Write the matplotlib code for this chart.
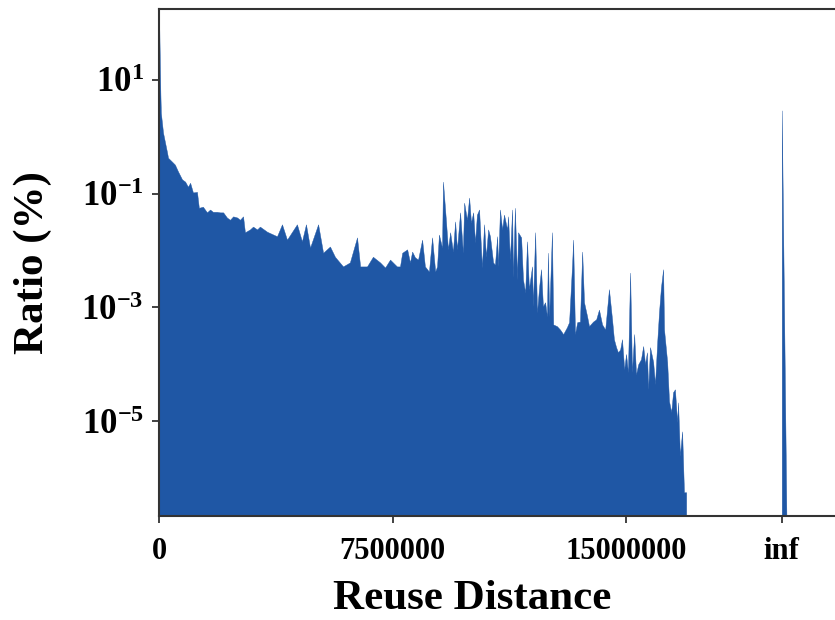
import numpy as np
import matplotlib
matplotlib.use('Agg')
import matplotlib.pyplot as plt
from matplotlib.ticker import FixedLocator, LogFormatterSciNotation, NullLocator

plt.rcParams['font.family'] = ['Liberation Serif', 'DejaVu Serif']
plt.rcParams['font.weight'] = 'bold'
plt.rcParams['mathtext.fontset'] = 'stix'
plt.rcParams['mathtext.default'] = 'bf'

# reuse distance (millions) and log10 of the ratio (%)
reuse_mil = [
    0.00, 0.01, 0.03, 0.045, 0.06, 0.13, 0.26, 0.29, 0.42, 0.51, 0.61,
    0.74, 0.84, 0.93, 1.00, 1.09, 1.22, 1.28, 1.41, 1.54, 1.64,
    1.73, 1.86, 1.96, 2.06, 2.18, 2.28, 2.38, 2.51, 2.60, 2.70,
    2.76, 2.92, 3.02, 3.15, 3.24, 3.47, 3.79, 3.95, 4.11, 4.43,
    4.59, 4.72, 4.85, 5.11, 5.27, 5.49, 5.65, 5.91, 6.13, 6.36,
    6.46, 6.68, 6.87, 7.10, 7.26, 7.42, 7.64, 7.74, 7.81, 7.97,
    8.06, 8.13, 8.22, 8.32, 8.45, 8.54, 8.67, 8.77, 8.87, 8.93,
    8.99, 9.09, 9.12, 9.22, 9.28, 9.35, 9.44, 9.51, 9.57, 9.67,
    9.76, 9.80, 9.89, 9.96, 10.02, 10.09, 10.15, 10.21, 10.28, 10.37,
    10.44, 10.50, 10.57, 10.63, 10.73, 10.79, 10.86, 10.89, 10.95, 11.02,
    11.08, 11.18, 11.21, 11.27, 11.34, 11.37, 11.43, 11.50, 11.53, 11.63,
    11.69, 11.76, 11.82, 11.88, 11.98, 12.01, 12.08, 12.14, 12.21, 12.27,
    12.33, 12.40, 12.46, 12.49, 12.53, 12.62, 12.66, 12.78, 12.88, 12.98,
    13.10, 13.17, 13.27, 13.30, 13.36, 13.43, 13.52, 13.59, 13.65, 13.75,
    13.81, 13.94, 14.04, 14.13, 14.23, 14.33, 14.45, 14.55, 14.61, 14.68,
    14.74, 14.81, 14.87, 14.94, 15.00, 15.06, 15.13, 15.19, 15.26, 15.32,
    15.39, 15.48, 15.55, 15.61, 15.67, 15.71, 15.77, 15.87, 15.93, 16.00,
    16.06, 16.12, 16.19, 16.22, 16.32, 16.38, 16.45, 16.51, 16.57, 16.64,
    16.67, 16.73, 16.80, 16.86, 16.93,
]
ratio_exp = [
    1.88, 1.88, 1.20, 0.75, 0.42, 0.07, -0.28, -0.37, -0.44, -0.49, -0.61,
    -0.75, -0.79, -0.88, -0.81, -0.98, -0.97, -1.25, -1.23, -1.33, -1.28,
    -1.32, -1.32, -1.33, -1.33, -1.42, -1.46, -1.40, -1.42, -1.46, -1.40,
    -1.68, -1.63, -1.58, -1.63, -1.58, -1.67, -1.75, -1.54, -1.81, -1.54,
    -1.84, -1.54, -1.95, -1.54, -2.04, -1.93, -2.11, -2.28, -2.21, -1.77,
    -2.28, -2.28, -2.11, -2.21, -2.30, -2.16, -2.28, -2.28, -2.04, -1.98,
    -2.21, -2.02, -2.12, -2.16, -1.81, -2.28, -2.37, -1.77, -2.37, -2.28,
    -1.72, -1.95, -0.79, -1.51, -1.98, -1.68, -2.02, -1.49, -1.98, -1.33,
    -2.04, -1.16, -1.46, -1.07, -1.51, -1.33, -1.86, -1.37, -1.28, -2.30,
    -1.54, -2.11, -1.63, -1.75, -2.21, -2.25, -1.75, -2.28, -1.28, -1.63,
    -1.37, -1.63, -1.40, -2.16, -1.28, -2.47, -1.25, -2.51, -1.68, -1.77,
    -2.51, -2.74, -1.84, -2.68, -2.28, -2.98, -1.68, -3.09, -2.63, -2.33,
    -2.98, -2.91, -3.16, -2.04, -3.16, -1.68, -3.30, -3.33, -3.39, -3.47,
    -3.35, -3.26, -2.21, -1.81, -3.47, -3.26, -3.25, -2.02, -2.91, -3.16,
    -3.33, -3.25, -3.21, -3.04, -3.30, -3.39, -2.68, -3.21, -3.56, -3.70,
    -3.79, -3.74, -3.56, -4.09, -3.82, -4.14, -2.39, -4.14, -3.47, -4.18,
    -4.00, -3.91, -3.68, -4.00, -3.79, -4.44, -3.70, -3.96, -4.35, -3.61,
    -3.07, -2.65, -2.33, -3.39, -3.96, -4.65, -4.84, -4.49, -4.44, -5.02,
    -4.67, -5.61, -5.18, -6.25, -6.25,
]

# the "inf" bucket (never reused)
inf_mil = [20.00, 20.15]
inf_ratio = [2.9, 2e-7]

xticks = [0, 7500000, 15000000, 20000000]
xticklabels = ['0', '7500000', '15000000', 'inf']
yticks = [1e1, 1e-1, 1e-3, 1e-5]

color = '#1f57a5'
floor = 1e-9

x = np.array(reuse_mil) * 1e6
y = 10.0 ** np.array(ratio_exp)

fig = plt.figure(figsize=(8.35, 6.2), dpi=100)
ax = fig.add_axes([159 / 835, 1 - 516 / 620, (835 - 159) / 835, (516 - 9) / 620])

ax.fill_between(x, y, floor, color=color, linewidth=0.3, edgecolor=color)
ax.fill_between(np.array(inf_mil) * 1e6, inf_ratio, floor, color=color,
                linewidth=0.3, edgecolor=color)

ax.set_yscale('log')
ax.set_xlim(0, 21.71e6)
ax.set_ylim(10 ** -6.667, 10 ** 2.245)

ax.yaxis.set_major_locator(FixedLocator(yticks))
ax.yaxis.set_major_formatter(LogFormatterSciNotation())
ax.yaxis.set_minor_locator(NullLocator())
ax.set_xticks(xticks)
ax.set_xticklabels(xticklabels)

for s in ['left', 'bottom', 'top']:
    ax.spines[s].set_linewidth(1.5)
    ax.spines[s].set_color('#333333')
ax.spines['right'].set_visible(False)

ax.tick_params(axis='both', length=5, width=1.3, color='#333333')
ax.tick_params(axis='x', pad=10, labelsize=22)
ax.tick_params(axis='y', pad=6, labelsize=25)

ax.set_xlabel('Reuse Distance', fontsize=31, fontweight='bold', va='top')
ax.xaxis.set_label_coords(0.463, -0.127)
ax.set_ylabel('Ratio (%)', fontsize=31, fontweight='bold')
ax.yaxis.set_label_coords(-0.158, 0.5)

fig.savefig('out.png', dpi=100)
